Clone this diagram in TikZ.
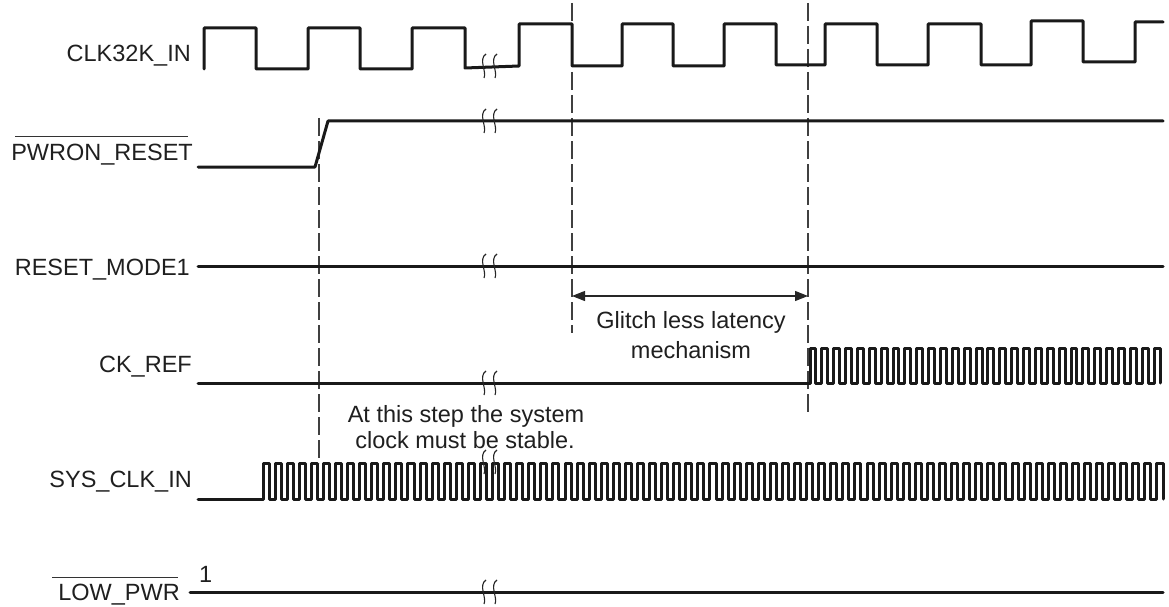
\documentclass[tikz,border=0pt]{standalone}
\usepackage{fontspec}
\setmainfont{Liberation Sans}
\usetikzlibrary{arrows.meta}
\begin{document}
\begin{tikzpicture}[x=1pt,y=-1pt,
  sig/.style={line width=3pt, line join=round, line cap=round, draw=black!90},
  guide/.style={line width=1.1pt, draw=black!75, dash pattern=on 18pt off 5pt},
  brk/.style={line width=1.1pt, draw=black!85},
  bar/.style={line width=1pt, draw=black!80},
  lbl/.style={font={\fontsize{23.5}{28}\selectfont}, text=black!88, inner sep=0pt},
  brkpair/.pic={
    \draw[brk] (-2,-12) .. controls (-10,-7) and (-1,6) .. (-4,12);
    \draw[brk] (9,-12) .. controls (1,-7) and (10,6) .. (7,12);
  }
]
\path[use as bounding box] (0,0) rectangle (1169,607);

% labels
\node[lbl, anchor=base east] (lclk) at (191,62) {CLK32K\_IN};
\node[lbl, anchor=base east] (lpwr) at (193,160) {PWRON\_RESET};
\draw[bar] (15,136) -- (188,136);
\node[lbl, anchor=base east] (lrm) at (190,275) {RESET\_MODE1};
\node[lbl, anchor=base east] (lck) at (192,372) {CK\_REF};
\node[lbl, anchor=base east] (lsys) at (192,487) {SYS\_CLK\_IN};
\node[lbl, anchor=base east] (llow) at (180,600) {LOW\_PWR};
\draw[bar] (52,577) -- (178,577);
\node[lbl, anchor=base west] (one) at (199,582) {1};

% annotation texts
\node[lbl, anchor=base] (gl1) at (691,328) {Glitch less latency};
\node[lbl, anchor=base] (gl2) at (691,358) {mechanism};
\node[lbl, anchor=base] (st1) at (466,422) {At this step the system};
\node[lbl, anchor=base] (st2) at (465,448) {clock must be stable.};

% guide lines
\coordinate (d1t) at (319,118); \coordinate (d1b) at (319,463);
\coordinate (d2t) at (572,3);   \coordinate (d2b) at (572,333);
\coordinate (d3t) at (808,3);   \coordinate (d3b) at (808,412);
\draw[guide] (d1t) -- (d1b);
\draw[guide] (d2t) -- (d2b);
\draw[guide] (d3t) -- (d3b);
\coordinate (a1) at (572,296); \coordinate (a2) at (808,296);
\draw[line width=1.1pt, black!85, {Triangle[length=13pt,width=10pt]}-{Triangle[length=13pt,width=10pt]}] (a1) -- (a2);

% CLK32K_IN
\draw[sig] (204,69) -- (204,28) -- (256,28) -- (256,69) -- (308,69) -- (308,28)
  -- (360,28) -- (360,69) -- (412,69) -- (412,28) -- (465,28) -- (465,68)
  -- (519,66) -- (519,24) -- (572,24) -- (572,66) -- (622,66) -- (622,24)
  -- (673,24) -- (673,66) -- (724,66) -- (724,24) -- (776,24) -- (776,65)
  -- (825,65) -- (825,24) -- (877,24) -- (877,65) -- (928,65) -- (928,24)
  -- (981,24) -- (981,65) -- (1031,65) -- (1031,21) -- (1083,21) -- (1083,62)
  -- (1135,62) -- (1135,22) -- (1163,22);

% PWRON_RESET
\draw[sig] (198,167) -- (315,167) -- (328,121) -- (1163,121);

% RESET_MODE1
\draw[sig] (198,266) -- (1163,266);

% CK_REF
\pgfmathsetmacro{\pa}{350/29.5}
\draw[sig] (198,383) -- (810,383)
  foreach \k in {0,...,29} { -- ({810+\k*\pa},383) -- ({810+\k*\pa},348)
     -- ({810+\k*\pa+\pa/2},348) -- ({810+\k*\pa+\pa/2},383) };

% SYS_CLK_IN
\pgfmathsetmacro{\pb}{900/74.5}
\draw[sig] (198,499) -- (263,499)
  foreach \k in {0,...,74} { -- ({263+\k*\pb},499) -- ({263+\k*\pb},463)
     -- ({263+\k*\pb+\pb/2},463) -- ({263+\k*\pb+\pb/2},499) };

% LOW_PWR
\draw[sig] (190,592) -- (1163,592);

% break marks
\foreach \yy in {66,121,266,383,462,592}
  \pic at (488,\yy) {brkpair};
\end{tikzpicture}
\end{document}
